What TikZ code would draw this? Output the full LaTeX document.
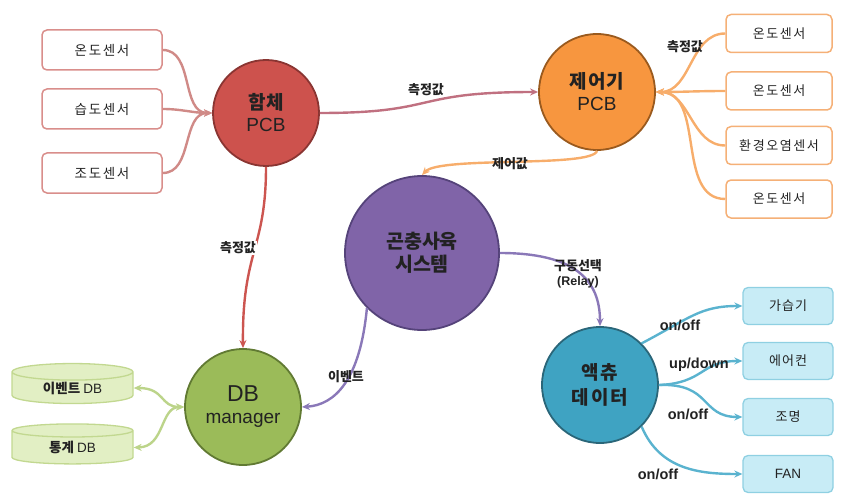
\documentclass[tikz,border=0pt]{standalone}
\usepackage{fontspec}
\setmainfont{Liberation Sans}
\newfontfamily\kr{Noto Sans CJK KR}
\usetikzlibrary{shapes.geometric,arrows.meta}
\definecolor{redF}{HTML}{CD524D}
\definecolor{redD}{HTML}{8A3532}
\definecolor{orF}{HTML}{F7963F}
\definecolor{orD}{HTML}{9A5A1E}
\definecolor{puF}{HTML}{8064A8}
\definecolor{puD}{HTML}{55437A}
\definecolor{grF}{HTML}{9BBB59}
\definecolor{grD}{HTML}{617A33}
\definecolor{blF}{HTML}{3FA3C2}
\definecolor{blD}{HTML}{2A6679}
\definecolor{lbB}{HTML}{D98E8B}
\definecolor{rbB}{HTML}{F5B077}
\definecolor{abF}{HTML}{C8ECF6}
\definecolor{abB}{HTML}{8FD0E2}
\definecolor{cyF}{HTML}{E2EFC4}
\definecolor{cyB}{HTML}{C2D890}
\definecolor{lnRs}{HTML}{D08A87}
\definecolor{lnHJ}{HTML}{C07080}
\definecolor{lnR}{HTML}{CC5550}
\definecolor{lnO}{HTML}{F7AD6B}
\definecolor{lnP}{HTML}{8A78B8}
\definecolor{lnG}{HTML}{BCD48A}
\definecolor{lnB}{HTML}{5AB3CF}
\definecolor{txt}{HTML}{222222}
\begin{document}
\begin{tikzpicture}[x=1pt,y=-1pt,
  bigc/.style={circle, inner sep=0pt, line width=1.8pt, align=center, text=txt,
    font=\fontsize{19}{22}\selectfont},
  lsens/.style={rectangle, rounded corners=5pt, draw=lbB, line width=1.5pt, fill=white,
    minimum width=120pt, minimum height=40pt, text=txt,
    font=\kr\fontsize{13.5}{15}\selectfont\addfontfeatures{LetterSpace=12}},
  rsens/.style={rectangle, rounded corners=5pt, draw=rbB, line width=1.5pt, fill=white,
    minimum width=106pt, minimum height=38pt, text=txt,
    font=\kr\fontsize{13}{15}\selectfont\addfontfeatures{LetterSpace=12}},
  abox/.style={rectangle, rounded corners=5pt, draw=abB, line width=1.3pt, fill=abF,
    minimum width=90pt, minimum height=37pt, text=txt,
    font=\kr\fontsize{13}{15}\selectfont\addfontfeatures{LetterSpace=8}},
  dbcyl/.style={cylinder, shape border rotate=90, aspect=0.28, draw=cyB, line width=1.3pt,
    fill=cyF, minimum width=121pt, minimum height=40pt, inner sep=0pt, text=txt,
    font=\kr\bfseries\fontsize{13.5}{15}\selectfont},
  lbl/.style={font=\kr\bfseries\fontsize{13}{15}\selectfont, text=txt, inner sep=1pt},
  elbl/.style={font=\bfseries\fontsize{14.5}{16}\selectfont, text=txt, inner sep=1pt},
  tip/.style={-{Stealth[length=8pt,width=7pt]}},
  conn/.style={line width=2.4pt, tip}
]
\useasboundingbox (0,0) rectangle (842,497);

% circles
\node[bigc, fill=redF, draw=redD, minimum size=106pt] (h) at (266,113) {{\kr\bfseries 함체}\\PCB};
\node[bigc, fill=orF, draw=orD, minimum size=116pt] (j) at (597,92) {{\kr\bfseries\addfontfeatures{LetterSpace=6}제어기}\\PCB};
\node[bigc, fill=puF, draw=puD, minimum size=154pt, font=\kr\bfseries\fontsize{19.5}{23}\selectfont] (g) at (422,253) {곤충사육\\시스템};
\node[bigc, fill=grF, draw=grD, minimum size=116pt] (d) at (243,407) {{\fontsize{23}{25}\selectfont DB}\\manager};
\node[bigc, fill=blF, draw=blD, minimum size=116pt, font=\kr\bfseries\fontsize{19}{25}\selectfont\addfontfeatures{LetterSpace=10}] (a) at (600,385) {액츄\\데이터};

% left sensors
\node[lsens] (ls1) at (102,50) {온도센서};
\node[lsens] (ls2) at (102,109) {습도센서};
\node[lsens] (ls3) at (102,173) {조도센서};

% right sensors
\node[rsens] (rs1) at (779,33.5) {온도센서};
\node[rsens] (rs2) at (779,91) {온도센서};
\node[rsens] (rs3) at (779,145.5) {환경오염센서};
\node[rsens] (rs4) at (779,199) {온도센서};

% actuator boxes
\node[abox] (b1) at (788,306) {가습기};
\node[abox] (b2) at (788,361) {에어컨};
\node[abox] (b3) at (788,417) {조명};
\node[abox, font=\fontsize{13.5}{15}\selectfont] (b4) at (788,474) {FAN};

% DB cylinders
\node[dbcyl] (db1) at (72.5,388) {이벤트 {\normalfont\fontsize{13.5}{15}\selectfont DB}};
\node[dbcyl] (db2) at (72.5,447.5) {통계 {\normalfont\fontsize{13.5}{15}\selectfont DB}};

% left sensors -> h
\draw[conn, draw=lnRs] (ls1.east) to[out=0,in=180] (h.west);
\draw[conn, draw=lnRs] (ls2.east) to[out=0,in=180] (h.west);
\draw[conn, draw=lnRs] (ls3.east) to[out=0,in=180] (h.west);

% h -> j
\draw[conn, draw=lnHJ] (h.east) .. controls (440,113) and (410,92) .. (j.west)
  node[lbl, pos=0.5, above=5pt] {측정값};

% right sensors -> j
\draw[conn, draw=lnO] (rs1.west) to[out=180,in=0] (j.east);
\draw[conn, draw=lnO] (rs2.west) to[out=180,in=0] (j.east);
\draw[conn, draw=lnO] (rs3.west) to[out=180,in=0] (j.east);
\draw[conn, draw=lnO] (rs4.west) to[out=180,in=0] (j.east);
\node[lbl] (lm2) at (685,47) {측정값};

% j -> g
\draw[conn, draw=lnO] (j.south) .. controls (592,168) and (440,156) .. (g.north);
\node[lbl] (lc) at (510,164) {제어값};

% h -> d
\draw[conn, draw=lnR] (h.south) .. controls (266,250) and (242,250) .. (d.north);
\node[lbl, fill=white] (lm3) at (238,248) {측정값};

% g -> d
\draw[conn, draw=lnP] (g.south west) .. controls (360,380) and (335,405) .. (d.east);
\node[lbl] (le) at (346,377) {이벤트};

% g -> a
\draw[conn, draw=lnP] (g.east) .. controls (575,253) and (600,280) .. (a.north);
\node[lbl, align=center, font=\kr\bfseries\fontsize{13}{15}\selectfont] (lr) at (578,274) {구동선택\\{\normalfont\bfseries\fontsize{12.5}{14}\selectfont(Relay)}};

% d <-> db
\draw[line width=2.4pt, draw=lnG, {Stealth[length=8pt,width=7pt]}-{Stealth[length=8pt,width=7pt]}]
  (db1.east) .. controls (165,388) and (160,407) .. (d.west);
\draw[line width=2.4pt, draw=lnG, {Stealth[length=8pt,width=7pt]}-{Stealth[length=8pt,width=7pt]}]
  (db2.east) .. controls (165,447) and (160,407) .. (d.west);

% a -> boxes
\draw[conn, draw=lnB] (a.45) .. controls (690,318) and (700,306) .. (b1.west);
\draw[conn, draw=lnB] (a.east) .. controls (705,383) and (700,361) .. (b2.west);
\draw[conn, draw=lnB] (a.east) .. controls (712,383) and (700,417) .. (b3.west);
\draw[conn, draw=lnB] (a.-45) .. controls (660,470) and (700,474) .. (b4.west);
\node[elbl] (o1) at (680,325) {on/off};
\node[elbl] (o2) at (699,365) {up/down};
\node[elbl] (o3) at (688,414) {on/off};
\node[elbl] (o4) at (658,474) {on/off};
\end{tikzpicture}
\end{document}
